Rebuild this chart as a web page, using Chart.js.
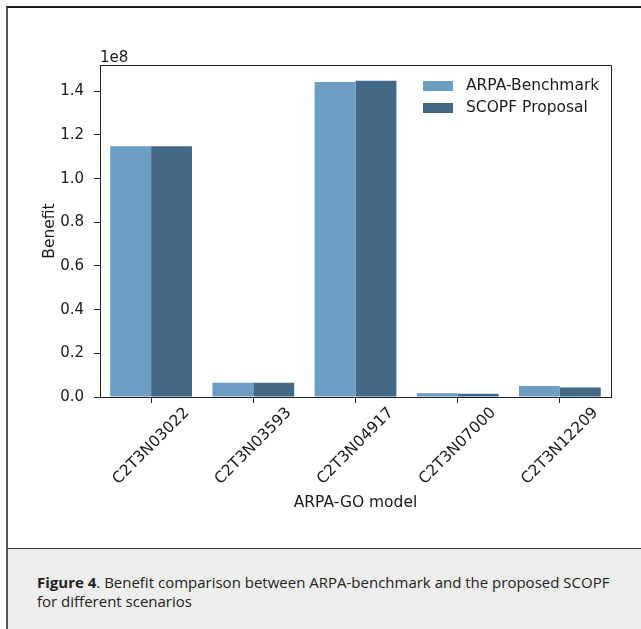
<!DOCTYPE html>
<html><head><meta charset="utf-8">
<script src="https://cdn.jsdelivr.net/npm/chart.js@4.4.0/dist/chart.umd.min.js"></script>
<style>
html,body{margin:0;padding:0;background:#fff;width:641px;height:629px;overflow:hidden;position:relative;}
#fig{position:absolute;left:6px;top:6px;width:700px;height:540px;border-top:2px solid #1e1e1e;border-left:2px solid #555;border-bottom:2px solid #333;background:#fff;}
#cap{position:absolute;left:6px;top:549px;width:700px;height:90px;background:#eeeeee;border-left:2px solid #555;}
#capText{position:absolute;left:37px;top:573px;font-family:"Open Sans";font-size:15px;line-height:19px;color:#222;white-space:nowrap;}
canvas{position:absolute;left:0;top:0;}
</style></head>
<body>
<div id="fig"></div><div id="cap"></div>
<div id="capText"><b>Figure 4</b>. Benefit comparison between ARPA-benchmark and the proposed SCOPF<br>for different scenarios</div>
<canvas id="c" width="641" height="548" style="width:641px;height:548px"></canvas>
<script>
const categories = ["C2T3N03022", "C2T3N03593", "C2T3N04917", "C2T3N07000", "C2T3N12209"];
const arpaBenchmark = [1.148e8, 0.065e8, 1.443e8, 0.017e8, 0.050e8];
const scopfProposal = [1.148e8, 0.065e8, 1.448e8, 0.015e8, 0.044e8];
const seriesNames = ["ARPA-Benchmark", "SCOPF Proposal"];
const yTicks = [0.0, 0.2, 0.4, 0.6, 0.8, 1.0, 1.2, 1.4];
const yScaleFactor = 1e8;
const colors = ["#6b9ec2", "#436987"];

const FONT = '"DejaVu Sans"';
const TXT = '#1a1a1a';
const FS = 15.5;
const yMax = 1.05 * Math.max(...arpaBenchmark, ...scopfProposal);

const extras = {
  id: 'extras',
  afterDraw(chart) {
    const ctx = chart.ctx, a = chart.chartArea, xs = chart.scales.x;
    ctx.save();
    ctx.strokeStyle = '#222'; ctx.lineWidth = 1;
    ctx.beginPath();
    ctx.moveTo(Math.round(a.left) + 0.5, Math.round(a.top) + 0.5);
    ctx.lineTo(Math.round(a.right) + 0.5, Math.round(a.top) + 0.5);
    ctx.lineTo(Math.round(a.right) + 0.5, Math.round(a.bottom) + 0.5);
    ctx.stroke();
    ctx.font = '15px ' + FONT; ctx.fillStyle = TXT;
    ctx.textAlign = 'left'; ctx.textBaseline = 'alphabetic';
    ctx.fillText('1e8', a.left, a.top - 3);
    ctx.font = FS + 'px ' + FONT;
    categories.forEach((lab, i) => {
      const x = xs.getPixelForTick(i);
      const w = ctx.measureText(lab).width, h = FS;
      const W = (w + h) * Math.SQRT1_2;
      const cy = a.bottom + 8 + W / 2;
      ctx.save(); ctx.translate(x, cy); ctx.rotate(-Math.PI / 4);
      ctx.textAlign = 'center'; ctx.textBaseline = 'middle';
      ctx.fillText(lab, 0, 0); ctx.restore();
    });
    const px = a.right - 188, rowY = [a.top + 21, a.top + 43];
    seriesNames.forEach((n, i) => {
      ctx.fillStyle = colors[i];
      ctx.fillRect(px, rowY[i] - 5, 30, 10);
      ctx.fillStyle = TXT; ctx.textAlign = 'left'; ctx.textBaseline = 'middle';
      ctx.fillText(n, px + 43, rowY[i]);
    });
    ctx.restore();
  }
};

new Chart(document.getElementById('c'), {
  type: 'bar',
  data: {
    labels: categories,
    datasets: [
      { label: seriesNames[0], data: arpaBenchmark, backgroundColor: colors[0], borderWidth: 0, categoryPercentage: 0.8, barPercentage: 1.0 },
      { label: seriesNames[1], data: scopfProposal, backgroundColor: colors[1], borderWidth: 0, categoryPercentage: 0.8, barPercentage: 1.0 }
    ]
  },
  options: {
    responsive: false, animation: false, devicePixelRatio: 1,
    layout: { padding: { top: 65, right: 30, left: 37, bottom: 36 } },
    plugins: { legend: { display: false }, tooltip: { enabled: false } },
    scales: {
      x: {
        offset: true,
        grid: { display: true, offset: false, drawOnChartArea: false, drawTicks: true, tickLength: 6, color: '#222' },
        border: { display: true, color: '#222', width: 1 },
        ticks: { display: false },
        title: { display: true, text: 'ARPA-GO model', font: { family: 'DejaVu Sans', size: FS }, color: TXT, padding: { top: 0, bottom: 0 } },
        afterFit(s) { s.height = 115; }
      },
      y: {
        min: 0, max: yMax,
        afterBuildTicks(s) { s.ticks = yTicks.map(v => ({ value: v * yScaleFactor })); },
        grid: { display: true, drawOnChartArea: false, drawTicks: true, tickLength: 6, color: '#222' },
        border: { display: true, color: '#222', width: 1 },
        ticks: { padding: 10, color: TXT, font: { family: 'DejaVu Sans', size: 15 }, callback: v => (v / yScaleFactor).toFixed(1) },
        title: { display: true, text: 'Benefit', font: { family: 'DejaVu Sans', size: FS }, color: TXT, padding: { top: 4, bottom: 0 } },
        afterFit(s) { s.width = 63; }
      }
    }
  },
  plugins: [extras]
});
</script>
</body></html>
